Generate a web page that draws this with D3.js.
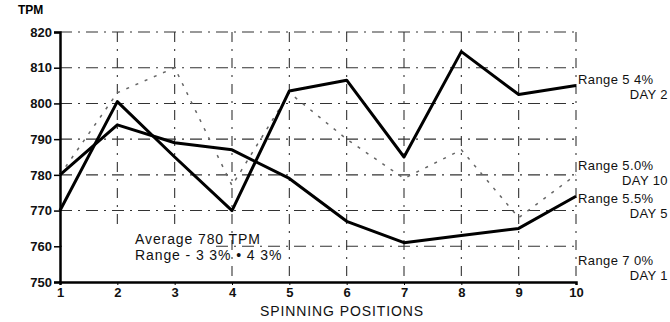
<!DOCTYPE html>
<html>
<head>
<meta charset="utf-8">
<script src="https://cdn.jsdelivr.net/npm/d3@7"></script>
<style>
  body { margin: 0; background: #fff; }
  svg { display: block; font-family: "Liberation Sans", Arial, sans-serif; }
  .axis text { font-size: 13px; font-weight: bold; fill: #111; }
  .label { font-size: 13px; fill: #111; letter-spacing: 0.4px; }
  .note { font-size: 14px; fill: #111; letter-spacing: 0.9px; }
</style>
</head>
<body>
<div id="chart"></div>
<script>
// positions along the spinning frame
const positions = [1, 2, 3, 4, 5, 6, 7, 8, 9, 10];
const yTicks = [750, 760, 770, 780, 790, 800, 810, 820];

// TPM readings
const day2 = [770, 800.5, 785, 770, 803.5, 806.5, 785, 814.5, 802.5, 805];
const day1 = [780, 794, 789, 787, 779, 767, 761, 763, 765, 774];
// faint dashed trace (mostly faded in the scan)
const day10 = [780, 803, 810, 777, 803, 790, 779, 787, 768, 780];

const rightLabels = [
  { range: 'Range 5 4%', day: 'DAY 2', y: 84 },
  { range: 'Range 5.0%', day: 'DAY 10', y: 170 },
  { range: 'Range 5.5%', day: 'DAY 5', y: 203 },
  { range: 'Range 7 0%', day: 'DAY 1', y: 265 }
];

const width = 670, height = 322;
const svg = d3.select('#chart').append('svg')
  .attr('width', width).attr('height', height);

const x = d3.scaleLinear().domain([1, 10]).range([60, 576]);
const y = d3.scaleLinear().domain([750, 820]).range([282, 32]);

// dash-dot grid
svg.append('g').selectAll('line')
  .data(yTicks.slice(1))
  .enter().append('line')
  .attr('x1', x(1)).attr('x2', x(10))
  .attr('y1', d => y(d)).attr('y2', d => y(d))
  .attr('stroke', '#333').attr('stroke-width', 1.1)
  .attr('stroke-dasharray', '12,6,2,6');

svg.append('g').selectAll('line')
  .data(positions.slice(1))
  .enter().append('line')
  .attr('x1', d => x(d)).attr('x2', d => x(d))
  .attr('y1', y(820)).attr('y2', y(750))
  .attr('stroke', '#333').attr('stroke-width', 1.1)
  .attr('stroke-dasharray', '10,7,2,7');

// white patch under the note, as in the original
svg.append('rect')
  .attr('x', x(1) + 2).attr('y', y(766)).attr('width', x(4) - x(1) - 20).attr('height', y(751) - y(766))
  .attr('fill', '#fff');

// axes
const yAxis = svg.append('g').attr('class', 'axis')
  .attr('transform', `translate(${x(1)},0)`)
  .call(d3.axisLeft(y).tickValues(yTicks).tickSize(6).tickPadding(2));
yAxis.select('.domain').attr('stroke', '#000').attr('stroke-width', 2.5);
yAxis.selectAll('.tick line').attr('stroke-width', 1.5);

const xAxis = svg.append('g').attr('class', 'axis')
  .attr('transform', `translate(0,${y(750)})`)
  .call(d3.axisBottom(x).tickValues(positions).tickFormat(d3.format('d')).tickSize(3).tickPadding(3));
xAxis.select('.domain').attr('stroke', '#000').attr('stroke-width', 2.5);

svg.append('text')
  .attr('x', 18).attr('y', 14)
  .style('font-size', '12px').style('font-weight', 'bold')
  .text('TPM');

svg.append('text').attr('class', 'note')
  .attr('x', (x(1) + x(10)) / 2 + 24).attr('y', 316)
  .attr('text-anchor', 'middle')
  .text('SPINNING POSITIONS');

// series
const line = d3.line()
  .x((d, i) => x(positions[i]))
  .y(d => y(d));

svg.append('path').datum(day10)
  .attr('d', line)
  .attr('fill', 'none').attr('stroke', '#666')
  .attr('stroke-width', 1.5).attr('stroke-dasharray', '3,7');

svg.append('path').datum(day1)
  .attr('d', line)
  .attr('fill', 'none').attr('stroke', '#000')
  .attr('stroke-width', 3).attr('stroke-linejoin', 'round');

svg.append('path').datum(day2)
  .attr('d', line)
  .attr('fill', 'none').attr('stroke', '#000')
  .attr('stroke-width', 3).attr('stroke-linejoin', 'round');

// right-hand labels
const rl = svg.append('g').selectAll('g')
  .data(rightLabels).enter().append('g');
rl.append('text').attr('class', 'label')
  .attr('x', 578).attr('y', d => d.y)
  .text(d => d.range);
rl.append('text').attr('class', 'label')
  .attr('x', 668).attr('y', d => d.y + 15)
  .attr('text-anchor', 'end')
  .text(d => d.day);

// annotation
svg.append('text').attr('class', 'note')
  .attr('x', 135).attr('y', 244).text('Average 780 TPM');
svg.append('text').attr('class', 'note')
  .attr('x', 135).attr('y', 260).text('Range - 3 3% \u2022 4 3%');
</script>
</body>
</html>
